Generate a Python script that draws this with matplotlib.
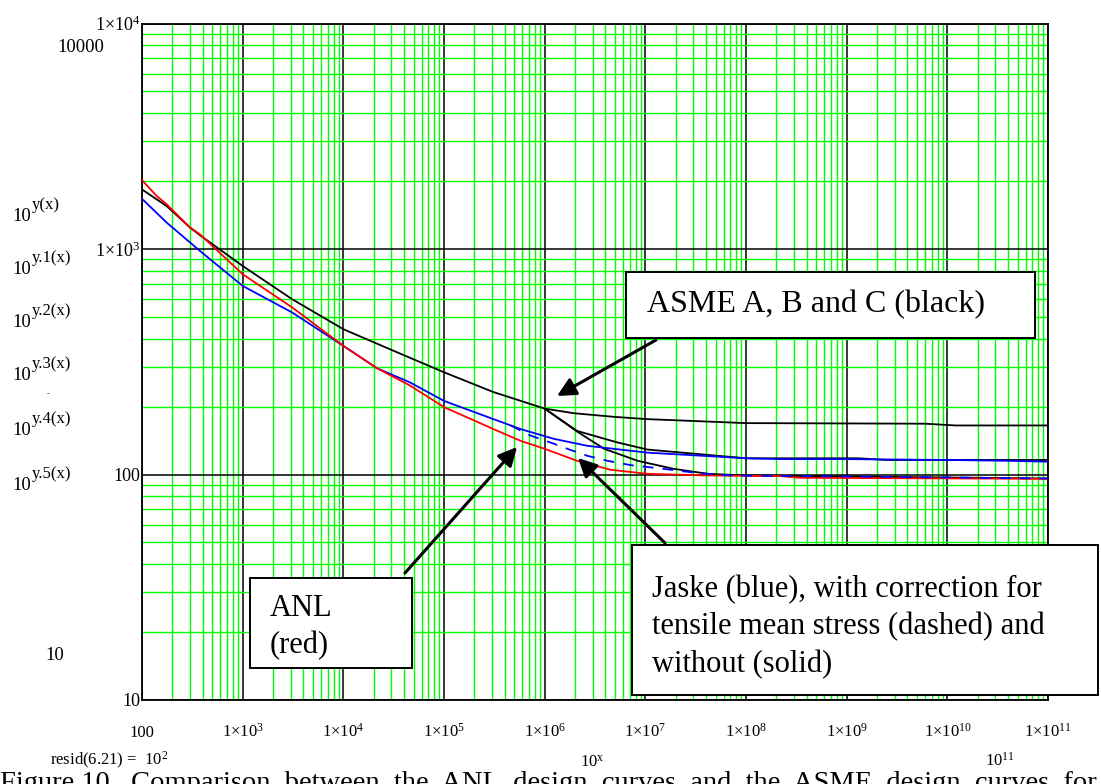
import numpy as np
import matplotlib
matplotlib.use("Agg")
import matplotlib.pyplot as plt
from matplotlib.patches import Rectangle, FancyArrowPatch
from matplotlib.ticker import LogLocator, NullFormatter

plt.rcParams['font.family'] = ['Liberation Serif', 'DejaVu Serif']
plt.rcParams['mathtext.fontset'] = 'custom'
plt.rcParams['mathtext.rm'] = 'Liberation Serif'
plt.rcParams['mathtext.it'] = 'Liberation Serif:italic'
plt.rcParams['mathtext.bf'] = 'Liberation Serif:bold'

# ---------------- data ----------------
black_common_x = [1e2, 1.76e2, 3.0e2, 3.78e2, 1e3, 3.1e3, 1e4, 3.14e4, 1e5, 3.1e5, 1e6]
black_common_y = [1837, 1550, 1245, 1150, 841, 599, 441, 354, 284, 232, 196]

asme_a_x = [1e6, 1.94e6, 5e6, 1.05e7, 1e8, 6e9, 1.2e10, 1e11]
asme_a_y = [196, 187, 180, 176, 169, 168, 165, 165]

asme_b_x = [1e6, 2.1e6, 5.2e6, 1.05e7, 1e8, 1.3e9, 2.5e9, 1e11]
asme_b_y = [196, 156, 139, 129, 118, 118, 116, 116]

asme_c_x = [1e6, 2.1e6, 3.9e6, 8.4e6, 1.9e7, 4.2e7, 1e8, 1e9, 1e11]
asme_c_y = [196, 155, 130, 115, 106, 100.7, 99, 98, 96]

anl_x = [1e2, 1.4e2, 1.76e2, 3.0e2, 3.78e2, 1e3, 3.1e3, 1e4, 2.16e4, 4.6e4, 1e5, 3.1e5,
         5.77e5, 1e6, 2.1e6, 4.5e6, 1.05e7, 4.2e7, 2.2e8, 3.4e8, 1e11]
anl_y = [2020, 1718, 1578, 1245, 1160, 773, 551, 372, 296, 248, 199, 159,
         141, 130, 115, 105, 100.7, 99, 98.4, 96.7, 95.7]

jaske_x = [1e2, 1.76e2, 3.78e2, 1e3, 3.1e3, 1e4, 2.16e4, 4.6e4, 1e5, 3.1e5, 5.77e5,
           1.23e6, 2.66e6, 1.05e7, 1e8, 2.2e8, 1e9, 1e10, 4e10, 1e11]
jaske_y = [1670, 1309, 979, 686, 523, 372, 296, 256, 212, 176, 159,
           144, 134, 125, 118, 117, 117, 116, 115, 114]

jaske_corr_x = [4.6e5, 7.2e5, 1.23e6, 1.68e6, 2.66e6, 4.2e6, 7.2e6, 1.5e7, 3.3e7, 7e7,
                1e9, 1e10, 1e11]
jaske_corr_y = [165, 149, 137, 130, 121, 115, 110, 106, 101.5, 99, 98, 97, 96]

x_ticks = [1e2, 1e3, 1e4, 1e5, 1e6, 1e7, 1e8, 1e9, 1e10, 1e11]
x_tick_labels = ["100"] + [r"$1{\times}10^{%d}$" % k for k in range(3, 12)]
y_ticks = [10, 100, 1e3, 1e4]
y_tick_labels = ["10", "100", r"$1{\times}10^{3}$", r"$1{\times}10^{4}$"]

left_sups = ["y(x)", "y.1(x)", "y.2(x)", "y.3(x)", "y.4(x)", "y.5(x)"]

# ---------------- figure ----------------
W, H = 1101, 784
fig = plt.figure(figsize=(W / 100, H / 100), dpi=100)

def fx(px):
    return px / W

def fy(py):
    return 1 - py / H

L, R, T, B = 142, 1048, 23.5, 700
ax = fig.add_axes([fx(L), fy(B), fx(R) - fx(L), fy(T) - fy(B)])
ax.set_xscale('log')
ax.set_yscale('log')
ax.set_xlim(1e2, 1e11)
ax.set_ylim(10, 1e4)

ax.xaxis.set_minor_locator(LogLocator(base=10, subs=np.arange(2, 10), numticks=100))
ax.yaxis.set_minor_locator(LogLocator(base=10, subs=np.arange(2, 10), numticks=100))
ax.xaxis.set_minor_formatter(NullFormatter())
ax.yaxis.set_minor_formatter(NullFormatter())
ax.grid(which='minor', color='#00ff00', lw=1.0, zorder=0)
ax.grid(which='major', color='black', lw=1.1, zorder=0.5)
ax.set_axisbelow(True)

ax.set_xticks(x_ticks)
ax.set_xticklabels(x_tick_labels)
ax.set_yticks(y_ticks)
ax.set_yticklabels(y_tick_labels)
ax.tick_params(which='both', length=0)
ax.tick_params(axis='x', pad=26.5, labelsize=12)
ax.tick_params(axis='y', pad=1, labelsize=13)
for t in ax.get_xticklabels():
    t.set_verticalalignment('baseline')
for s in ax.spines.values():
    s.set_linewidth(1.3)
    s.set_color('black')

lw = 1.3
ax.plot(black_common_x, black_common_y, color='black', lw=lw, zorder=3)
ax.plot(asme_a_x, asme_a_y, color='black', lw=lw, zorder=3)
ax.plot(asme_b_x, asme_b_y, color='black', lw=lw, zorder=3)
ax.plot(asme_c_x, asme_c_y, color='black', lw=lw, zorder=3)
ax.plot(jaske_x, jaske_y, color='blue', lw=lw, zorder=4)
ax.plot(anl_x, anl_y, color='red', lw=lw, zorder=5)
ax.plot(jaske_corr_x, jaske_corr_y, color='blue', lw=lw, ls=(0, (6, 5)), zorder=6)

# ---------------- left-side Mathcad labels ----------------
fig.text(fx(57), fy(48), "10000", fontsize=13.5, ha='left', va='center')
fig.text(fx(45), fy(655), "10", fontsize=13.5, ha='left', va='center')
for sup, py in zip(left_sups, [221, 274, 327, 380, 435, 490]):
    fig.text(fx(12), fy(py), "10", fontsize=13.5, ha='left', va='baseline')
    fig.text(fx(32), fy(py - 12), sup, fontsize=12, ha='left', va='baseline')
fig.text(fx(48), fy(394), "-", color='blue', fontsize=6, ha='center', va='center')

# ---------------- bottom Mathcad lines / caption ----------------
fig.text(fx(50), fy(765), r"resid(6.21) =  $10^{2}$", fontsize=12, ha='left', va='baseline')
fig.text(fx(580), fy(767), r"$10^{\mathrm{x}}$", fontsize=12, ha='left', va='baseline')
fig.text(fx(985), fy(766), r"$10^{11}$", fontsize=12, ha='left', va='baseline')
fig.text(fx(0), fy(790),
         "Figure 10.  Comparison  between  the  ANL  design  curves  and  the  ASME  design  curves  for",
         fontsize=20.5, ha='left', va='baseline')

# ---------------- boxes with text ----------------
def box(x0, y0, x1, y1):
    fig.patches.append(Rectangle((fx(x0), fy(y1)), fx(x1) - fx(x0), fy(y0) - fy(y1),
                                 transform=fig.transFigure, facecolor='white',
                                 edgecolor='black', lw=1.4, zorder=10))

box(626, 272, 1035, 338)
fig.text(fx(647), fy(305), "ASME A, B and C (black)", fontsize=23, ha='left',
         va='center', zorder=11)

box(250, 578, 412, 668)
fig.text(fx(270), fy(627), "ANL\n(red)", fontsize=22, ha='left', va='center',
         linespacing=1.38, zorder=11)

box(632, 545, 1098, 695)
fig.text(fx(652), fy(627), "Jaske (blue), with correction for\ntensile mean stress (dashed) and\nwithout (solid)",
         fontsize=22, ha='left', va='center', linespacing=1.38, zorder=11)

# ---------------- arrows ----------------
def arrow(x0, y0, x1, y1):
    fig.add_artist(FancyArrowPatch(
        (fx(x0), fy(y0)), (fx(x1), fy(y1)), transform=fig.transFigure,
        arrowstyle='-|>', mutation_scale=28, lw=2.2, color='black', zorder=12,
        shrinkA=0, shrinkB=0))

arrow(656, 340, 557, 396)
arrow(405, 573, 517, 447)
arrow(665, 543, 578, 458)

fig.savefig("out.png", dpi=100)
